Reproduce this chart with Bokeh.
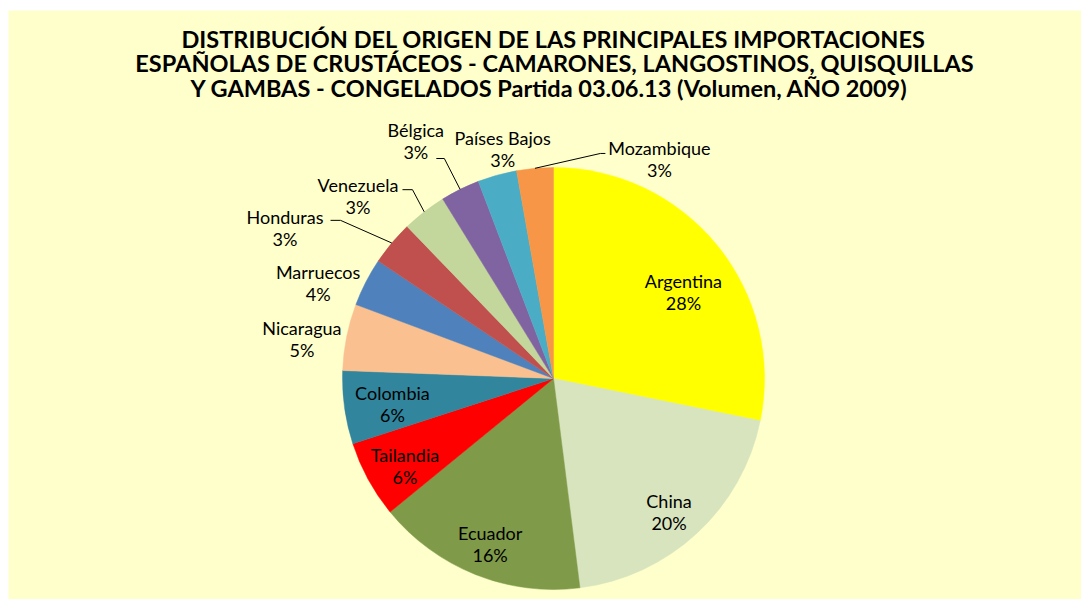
import math
from bokeh.plotting import figure
from bokeh.models import Range1d, ColumnDataSource
from bokeh.core.properties import value
from bokeh.embed import file_html
from bokeh.resources import INLINE

# ---- data ----
countries = ["Argentina", "China", "Ecuador", "Tailandia", "Colombia", "Nicaragua",
             "Marruecos", "Honduras", "Venezuela", "Bélgica", "Países Bajos", "Mozambique"]
shares = [28.2, 19.8, 16.1, 5.9, 5.6, 5.1, 3.7, 3.4, 3.4, 3.0, 3.0, 2.8]
colors = ["#FFFF00", "#D7E4BD", "#7F9A48", "#FF0000", "#31859C", "#FAC090",
          "#4F81BD", "#C0504D", "#C3D69B", "#8064A2", "#4BACC6", "#F79646"]
title_lines = ["DISTRIBUCIÓN DEL ORIGEN DE LAS PRINCIPALES IMPORTACIONES",
               "ESPAÑOLAS DE CRUSTÁCEOS - CAMARONES, LANGOSTINOS, QUISQUILLAS",
               "Y GAMBAS - CONGELADOS Partida 03.06.13 (Volumen, AÑO 2009)"]

# ---- layout (label polar positions: angle clockwise from top in degrees, radius factor) ----
label_theta = [56.2, 139.2, 201.0, 239.6, 261.0, 278.9, 292.1, 299.3, 313.0, 329.9, 347.5, 25.8]
label_rf = [0.741, 0.838, 0.838, 0.816, 0.773, 1.207, 1.204, 1.459, 1.267, 1.301, 1.114, 1.153]
# leader lines: screen offsets from label centre (start, elbow)
leaders = {7: [(45.5, -7.5), (55.5, -7.5)],
           8: [(44.5, -6.5), (54.5, -6.5)],
           9: [(20.5, 17.5), (28.5, 17.5)],
           11: [(-54, -6), (-59, -6)]}

W, H = 1081, 599
LEFT, TOP = 8, 10
def sy(y):  # screen y -> data y
    return 599 - y

CX, CY, R = 553, sy(378), 211

p = figure(width=W, height=H, output_backend="svg", toolbar_location=None,
           x_range=Range1d(LEFT, W), y_range=Range1d(sy(H), sy(TOP)),
           x_axis_type=None, y_axis_type=None,
           min_border_left=LEFT, min_border_top=TOP, min_border_right=0, min_border_bottom=0)
p.background_fill_color = "#FFFFCC"
p.border_fill_color = "white"
p.outline_line_color = None
p.grid.visible = False

total = sum(shares)
starts, ends, mids = [], [], []
acc = 0.0
for v in shares:
    a0 = acc / total * 360.0
    acc += v
    a1 = acc / total * 360.0
    starts.append(math.radians(90 - a0))
    ends.append(math.radians(90 - a1))
    mids.append((a0 + a1) / 2)

src = ColumnDataSource(dict(start=starts, end=ends, color=colors,
                            x=[CX] * len(shares), y=[CY] * len(shares)))
p.wedge(x="x", y="y", radius=R, start_angle="start", end_angle="end",
        direction="clock", fill_color="color", line_color="color", line_width=0.5,
        source=src)

# leader lines
lx, ly = [], []
for i, segs in leaders.items():
    th = math.radians(label_theta[i])
    lcx = CX + label_rf[i] * R * math.sin(th)
    lcy = CY + label_rf[i] * R * math.cos(th)
    m = math.radians(mids[i])
    rim = (CX + R * math.sin(m), CY + R * math.cos(m))
    pts = [(lcx + dx, lcy - dy) for dx, dy in segs] + [rim]
    lx.append([q[0] for q in pts])
    ly.append([q[1] for q in pts])
p.multi_line(lx, ly, line_color="black", line_width=1)

# labels
names_x, names_y, pct_x, pct_y, pct_t = [], [], [], [], []
for i, name in enumerate(countries):
    th = math.radians(label_theta[i])
    x = CX + label_rf[i] * R * math.sin(th)
    y = CY + label_rf[i] * R * math.cos(th)
    names_x.append(x); names_y.append(y + 11)
    pct_x.append(x); pct_y.append(y - 11)
    pct_t.append(f"{round(shares[i] / total * 100)}%")

p.text(names_x, names_y, text=countries, text_font=value("Lato"), text_font_size="18px",
       text_align="center", text_baseline="middle", text_color="black")
p.text(pct_x, pct_y, text=pct_t, text_font=value("Lato"), text_font_size="18px",
       text_align="center", text_baseline="middle", text_color="black")

# title
title_x = [553, 554, 549]
title_y = [38, 62, 87]
p.text(title_x, [sy(t) for t in title_y], text=title_lines, text_font=value("Lato"),
       text_font_size="23.5px", text_font_style="bold", text_align="center",
       text_baseline="middle", text_color="black")

open("out.html", "w").write(file_html(p, INLINE))
